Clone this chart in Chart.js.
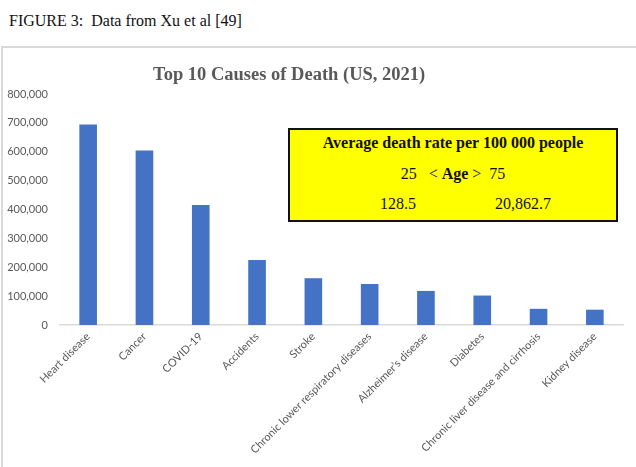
<!DOCTYPE html>
<html>
<head>
<meta charset="utf-8">
<script src="https://cdn.jsdelivr.net/npm/chart.js@4"></script>
<style>
  html, body { margin: 0; padding: 0; background: #fff; overflow: hidden; }
  body { width: 636px; height: 467px; position: relative; }
  .t { position: absolute; white-space: pre; }
  #caption { left: 9px; top: 12.6px; font: 16px/16px "Liberation Serif", "Times New Roman", serif; color: #111; }
  #frame { position: absolute; left: 1px; top: 46px; width: 700px; height: 500px; border-top: 2px solid #d9d9d9; border-left: 2px solid #d9d9d9; }
  #title { left: 153px; top: 64.5px; font: bold 18.5px/18.5px "Liberation Serif", "Times New Roman", serif; color: #595959; }
  #wrap { position: absolute; left: 0; top: 0; width: 636px; height: 467px; }
  #note { position: absolute; left: 288px; top: 128px; width: 326px; height: 90px; background: #ffff00; border: 2px solid #111; font: 16px/16px "Liberation Serif", "Times New Roman", serif; color: #111; }
  #note .c { position: absolute; left: 0; width: 100%; text-align: center; white-space: pre; }
</style>
</head>
<body>
<div id="frame"></div>
<div class="t" id="caption">FIGURE 3:  Data from Xu et al [49]</div>
<div id="wrap"><canvas id="chart"></canvas></div>
<div class="t" id="title">Top 10 Causes of Death (US, 2021)</div>
<div id="note">
  <div class="c" style="top:5px;font-weight:bold">Average death rate per 100 000 people</div>
  <div class="c" style="top:36px">25   &lt; <b>Age</b> &gt;  75</div>
  <div class="t" style="left:90px;top:66px">128.5</div>
  <div class="t" style="left:205px;top:66px">20,862.7</div>
</div>
<script>
// causes of death, US 2021
const causes = [
  "Heart disease",
  "Cancer",
  "COVID-19",
  "Accidents",
  "Stroke",
  "Chronic lower respiratory diseases",
  "Alzheimer\u2019s disease",
  "Diabetes",
  "Chronic liver disease and cirrhosis",
  "Kidney disease",
];
const deaths = [694000, 604000, 416000, 225000, 162000, 142000, 118000, 102000, 56000, 53000];
const yMax = 800000;
const yStep = 100000;

const grey = "#595959";
const tickFont = { family: "Lato", size: 11 };

new Chart(document.getElementById("chart"), {
  type: "bar",
  data: {
    labels: causes,
    datasets: [
      {
        data: deaths,
        backgroundColor: "#4472C4",
        categoryPercentage: 1,
        barPercentage: 0.313,
      },
    ],
  },
  options: {
    responsive: true,
    maintainAspectRatio: false,
    animation: false,
    layout: { padding: { left: 0, right: 13, top: 94, bottom: 0 } },
    plugins: {
      legend: { display: false },
      tooltip: { enabled: false },
    },
    scales: {
      x: {
        grid: { display: false, drawTicks: false },
        border: { color: "#d9d9d9", width: 1.5 },
        ticks: {
          color: grey,
          font: tickFont,
          autoSkip: false,
          minRotation: 45,
          maxRotation: 45,
          padding: 5,
        },
        afterFit: (scale) => {
          scale.height = 142;
        },
      },
      y: {
        min: 0,
        max: yMax,
        grid: { display: false, drawTicks: false },
        border: { display: false },
        ticks: {
          stepSize: yStep,
          color: grey,
          font: tickFont,
          padding: 12,
          callback: (v) => v.toLocaleString("en-US"),
        },
        afterFit: (scale) => {
          scale.width = 60;
        },
      },
    },
  },
});
</script>
</body>
</html>
